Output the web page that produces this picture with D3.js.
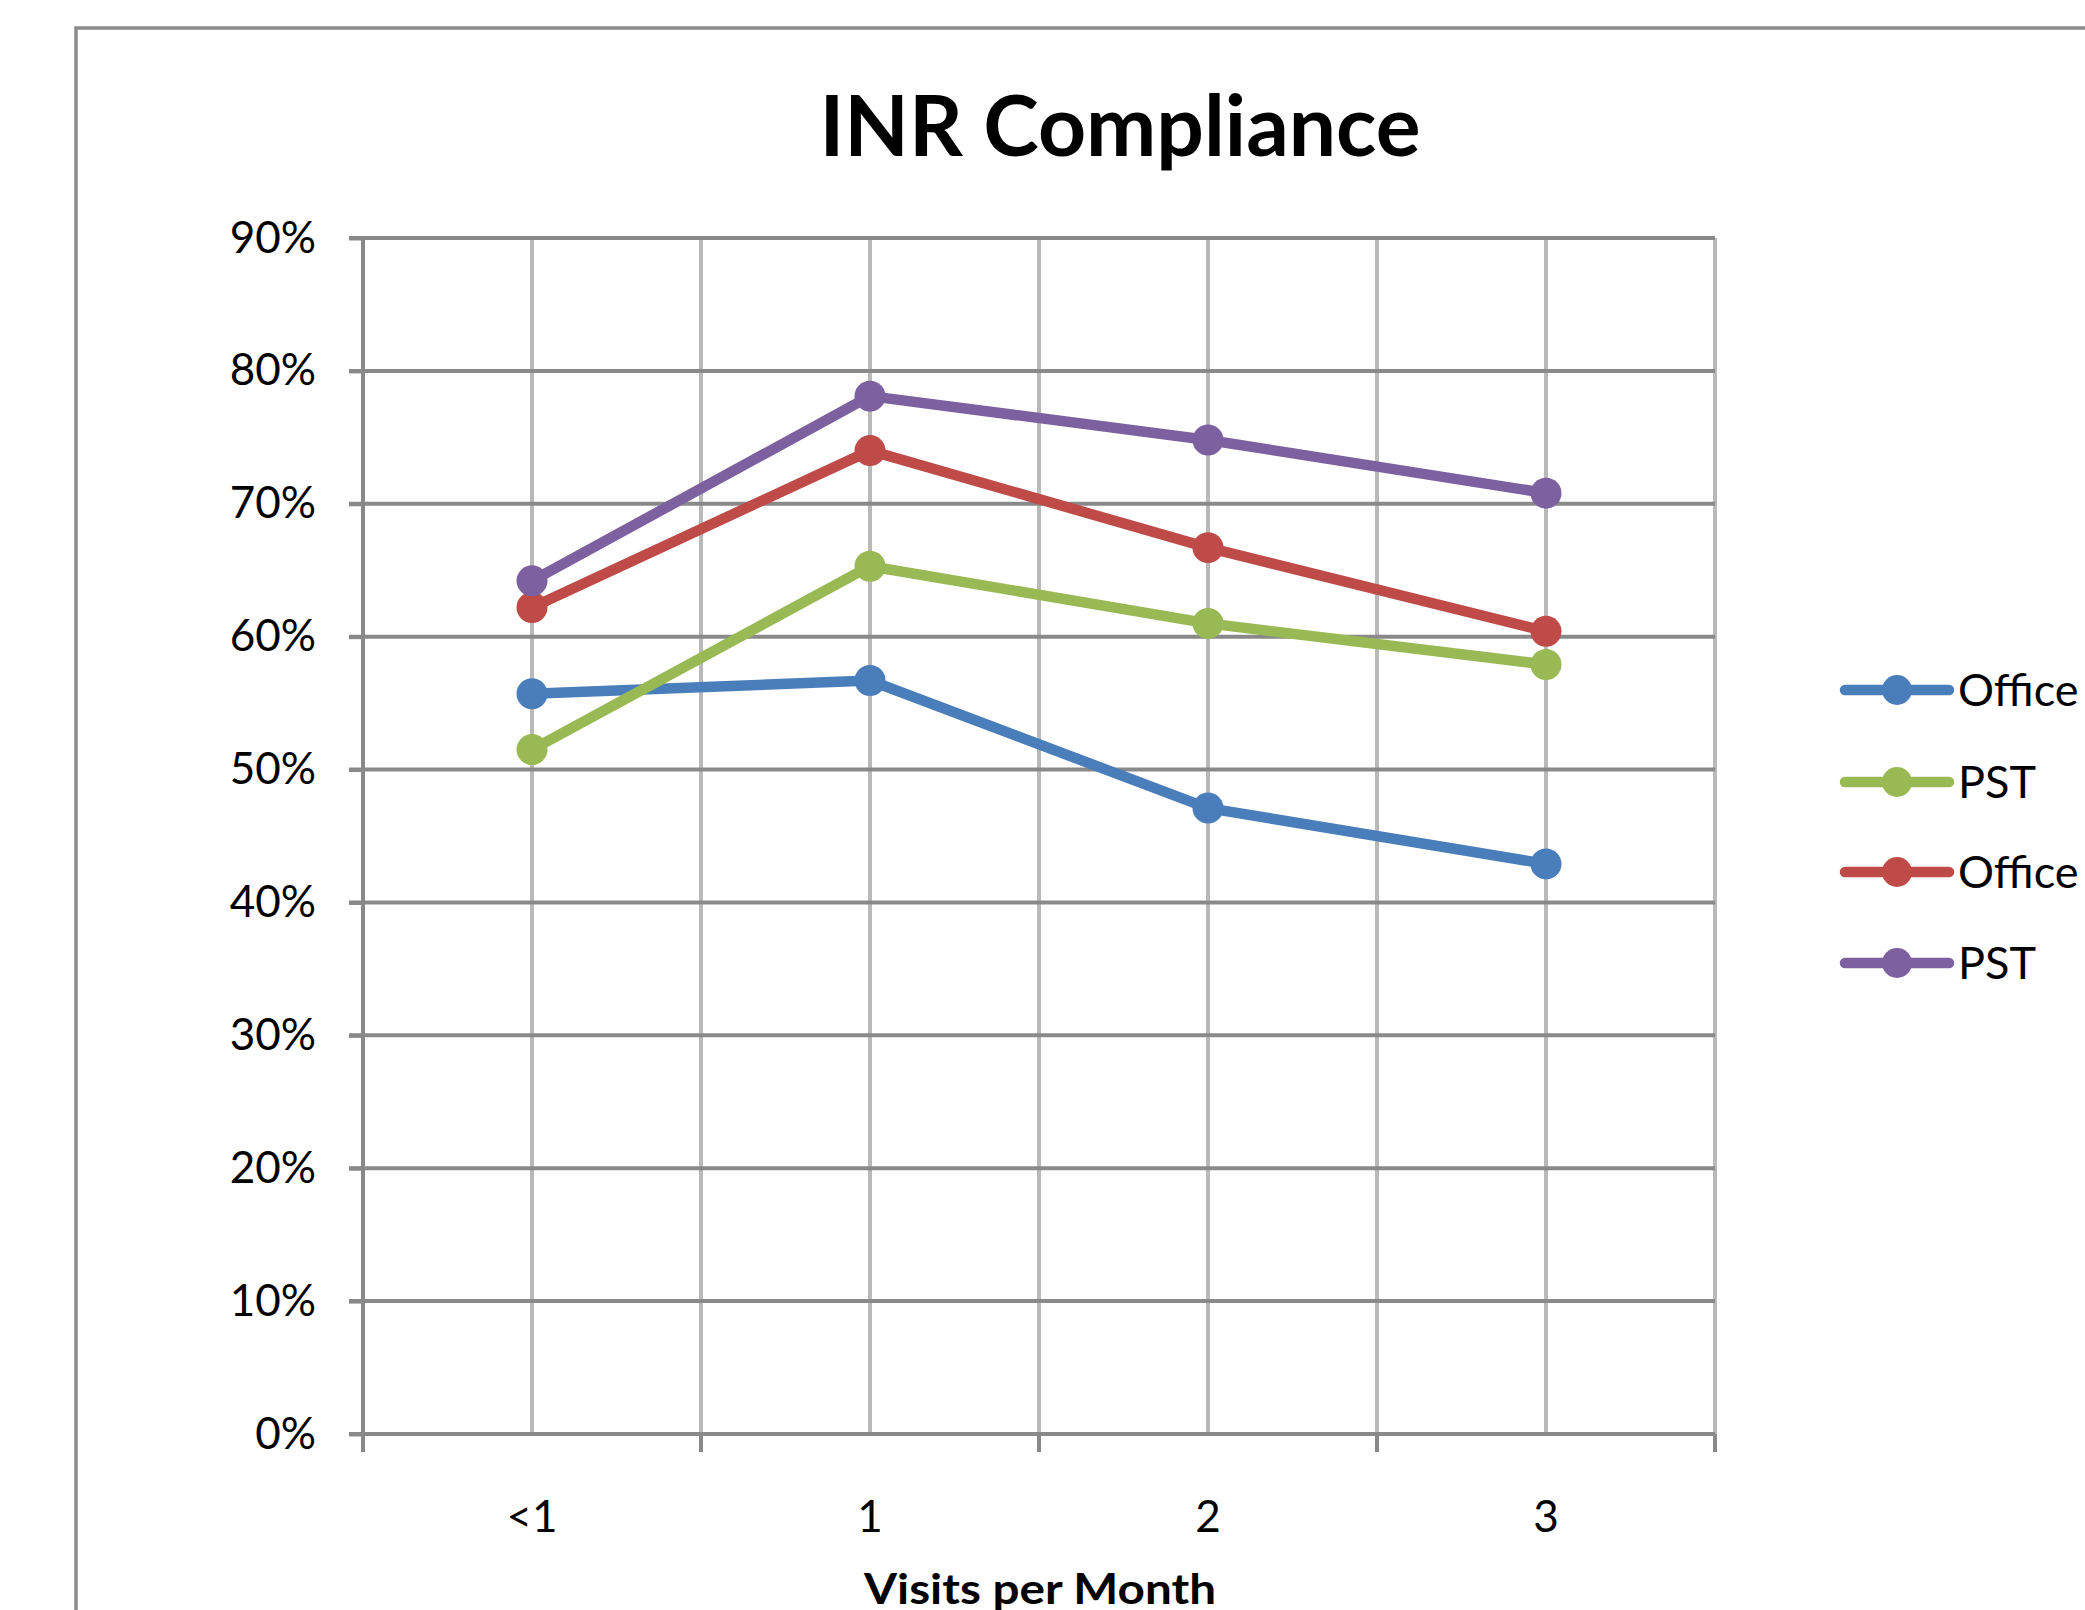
<!DOCTYPE html>
<html>
<head>
<meta charset="utf-8">
<script src="https://cdn.jsdelivr.net/npm/d3@7"></script>
<style>
  html, body { margin: 0; padding: 0; background: #fff; overflow: hidden; }
  text { font-family: Lato, "Open Sans", sans-serif; fill: #000; }
</style>
</head>
<body>
<div id="chart"></div>
<script>
// chart data
const categories = ['<1', '1', '2', '3'];
const seriesNames = ['Office', 'PST', 'Office', 'PST'];
const seriesColors = ['#4a7ebb', '#98b954', '#be4b48', '#7d60a0'];
const officeBlue = [55.7, 56.7, 47.1, 42.9];
const pstGreen = [51.5, 65.3, 61.0, 57.9];
const officeRed = [62.2, 74.0, 66.7, 60.4];
const pstPurple = [64.2, 78.1, 74.8, 70.8];
const yTicks = [0, 10, 20, 30, 40, 50, 60, 70, 80, 90];

const chartTitle = 'INR Compliance';
const xAxisTitle = 'Visits per Month';

const layout = {
  width: 2085,
  height: 1610,
  plot: { left: 363, right: 1715, top: 238, bottom: 1434 }
};

const seriesList = [officeBlue, pstGreen, officeRed, pstPurple].map((values, i) => ({
  name: seriesNames[i],
  color: seriesColors[i],
  values: values
}));

const svg = d3.select('#chart')
  .append('svg')
  .attr('width', layout.width)
  .attr('height', layout.height);

// outer chart frame (runs off the right and bottom edges)
svg.append('rect')
  .attr('x', 76).attr('y', 28)
  .attr('width', 2200).attr('height', 1800)
  .attr('fill', 'none')
  .attr('stroke', '#8c8c8c')
  .attr('stroke-width', 3.5);

const x = d3.scaleBand()
  .domain(categories)
  .range([layout.plot.left, layout.plot.right]);

const y = d3.scaleLinear()
  .domain([0, 90])
  .range([layout.plot.bottom, layout.plot.top]);

const xMid = c => x(c) + x.bandwidth() / 2;
const bandEdges = categories.map(c => x(c)).concat([layout.plot.right]);

// vertical gridlines: band edges and category centres
svg.append('g')
  .selectAll('line')
  .data(bandEdges.slice(1).concat(categories.map(xMid)))
  .join('line')
  .attr('x1', d => d).attr('x2', d => d)
  .attr('y1', layout.plot.top).attr('y2', layout.plot.bottom)
  .attr('stroke', '#b9b9b9')
  .attr('stroke-width', 4);

// horizontal gridlines
svg.append('g')
  .selectAll('line')
  .data(yTicks.filter(t => t > 0))
  .join('line')
  .attr('x1', layout.plot.left - 14).attr('x2', layout.plot.right)
  .attr('y1', d => y(d)).attr('y2', d => y(d))
  .attr('stroke', '#898989')
  .attr('stroke-width', 4);

// y axis
const yAxis = svg.append('g')
  .attr('transform', `translate(${layout.plot.left},0)`)
  .call(d3.axisLeft(y).tickValues(yTicks).tickFormat(d => d + '%').tickSize(14).tickPadding(33));
yAxis.selectAll('path, line').attr('stroke', '#898989').attr('stroke-width', 4);
yAxis.select('.domain').attr('d', `M-14,${layout.plot.top}H0V${layout.plot.bottom}`);
yAxis.selectAll('text')
  .attr('font-size', 44)
  .attr('font-family', 'Lato, sans-serif')
  .attr('fill', '#000');

// x axis: ticks at band edges, labels at band centres
const xAxis = svg.append('g');
xAxis.append('line')
  .attr('x1', layout.plot.left - 14).attr('x2', layout.plot.right)
  .attr('y1', layout.plot.bottom).attr('y2', layout.plot.bottom)
  .attr('stroke', '#898989').attr('stroke-width', 4);
xAxis.selectAll('.edge-tick')
  .data(bandEdges)
  .join('line')
  .attr('class', 'edge-tick')
  .attr('x1', d => d).attr('x2', d => d)
  .attr('y1', layout.plot.bottom).attr('y2', layout.plot.bottom + 18)
  .attr('stroke', '#898989').attr('stroke-width', 4);
xAxis.selectAll('text')
  .data(categories)
  .join('text')
  .attr('x', xMid)
  .attr('y', 1532)
  .attr('text-anchor', 'middle')
  .attr('font-size', 44)
  .text(d => d);

// series lines and markers
const lineGen = d3.line()
  .x((d, i) => xMid(categories[i]))
  .y(d => y(d));

const seriesGroups = svg.append('g')
  .selectAll('g')
  .data(seriesList)
  .join('g');

seriesGroups.append('path')
  .attr('d', d => lineGen(d.values))
  .attr('fill', 'none')
  .attr('stroke', d => d.color)
  .attr('stroke-width', 10.5)
  .attr('stroke-linejoin', 'round')
  .attr('stroke-linecap', 'round');

seriesGroups.selectAll('circle')
  .data(d => d.values.map((v, i) => ({ v, i, color: d.color })))
  .join('circle')
  .attr('cx', d => xMid(categories[d.i]))
  .attr('cy', d => y(d.v))
  .attr('r', 15.5)
  .attr('fill', d => d.color);

// title
svg.append('text')
  .attr('x', 1120)
  .attr('y', 156)
  .attr('text-anchor', 'middle')
  .attr('font-size', 84)
  .attr('font-weight', 'bold')
  .attr('textLength', 601)
  .attr('lengthAdjust', 'spacingAndGlyphs')
  .text(chartTitle);

// x axis title
svg.append('text')
  .attr('x', 1040)
  .attr('y', 1604)
  .attr('text-anchor', 'middle')
  .attr('font-size', 42)
  .attr('font-weight', 'bold')
  .attr('textLength', 352)
  .attr('lengthAdjust', 'spacingAndGlyphs')
  .text(xAxisTitle);

// legend
const legendRowY = [690, 782, 872, 963];
const legend = svg.append('g')
  .selectAll('g')
  .data(seriesList)
  .join('g')
  .attr('transform', (d, i) => `translate(1897,${legendRowY[i]})`);

legend.append('line')
  .attr('x1', -52).attr('x2', 52)
  .attr('stroke', d => d.color)
  .attr('stroke-width', 10.5)
  .attr('stroke-linecap', 'round');

legend.append('circle')
  .attr('r', 15)
  .attr('fill', d => d.color);

legend.append('text')
  .attr('x', 61)
  .attr('y', 16)
  .attr('font-size', 45)
  .text(d => d.name);
</script>
</body>
</html>
